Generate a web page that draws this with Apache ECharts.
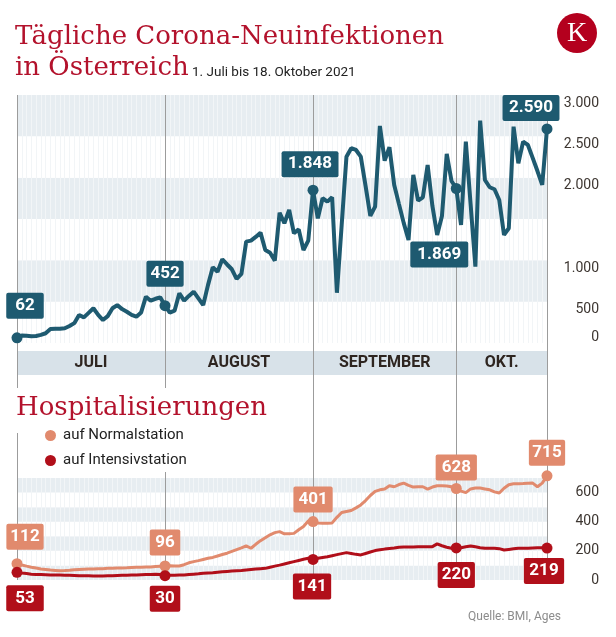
<!DOCTYPE html>
<html><head><meta charset="utf-8">
<script src="https://cdn.jsdelivr.net/npm/echarts@6/dist/echarts.min.js"></script>
<style>html,body{margin:0;padding:0;background:#fff}#c{width:616px;height:637px}</style>
</head><body><div id="c"></div>
<script>
// ---- data ----
const monthNames = ['JULI', 'AUGUST', 'SEPTEMBER', 'OKT.'];
const monthStarts = [0, 31, 62, 92];
const lastDay = 111;
const highlightDays = [0, 31, 62, 92, 111];

const infections = [
  62, 90, 88, 83, 85, 98, 118, 168, 173, 173,
  178, 205, 240, 338, 310, 365, 420, 340, 278, 325,
  420, 459, 410, 378, 340, 318, 370, 560, 512, 535,
  553, 452, 367, 391, 601, 512, 570, 621, 540, 459,
  700, 916, 863, 1013, 950, 892, 775, 835, 1226, 1238,
  1283, 1335, 1125, 1092, 996, 1576, 1448, 1609, 1327, 1375,
  1125, 1238, 1848, 1508, 1751, 1710, 1763, 608, 1430, 2254,
  2356, 2335, 2254, 1900, 1537, 1649, 2626, 2206, 2368, 1912,
  1680, 1450, 1246, 2033, 1722, 1763, 2154, 1658, 1307, 1537,
  2287, 1960, 1869, 1428, 2436, 1680, 923, 2690, 1972, 1884,
  1860, 1730, 1307, 1388, 2617, 2174, 2436, 2396, 2240, 2080,
  1912, 2590
];
const normalstation = [
  112, 103, 95, 88, 82, 76, 72, 68, 66, 64,
  65, 67, 70, 72, 74, 75, 76, 77, 78, 80,
  81, 82, 83, 84, 86, 87, 88, 89, 90, 92,
  94, 96, 97, 96, 96, 105, 118, 126, 133, 141,
  149, 155, 165, 175, 184, 196, 208, 220, 234, 218,
  245, 270, 290, 310, 325, 332, 317, 317, 320, 345,
  367, 405, 401, 392, 390, 390, 392, 430, 463, 470,
  477, 495, 515, 545, 580, 608, 619, 625, 647, 640,
  655, 665, 650, 638, 640, 640, 624, 638, 647, 647,
  645, 640, 628, 610, 600, 625, 631, 631, 625, 619,
  605, 597, 630, 654, 660, 661, 662, 664, 665, 640,
  665, 715
];
const intensivstation = [
  53, 48, 44, 40, 38, 37, 36, 35, 35, 34,
  33, 32, 31, 30, 30, 29, 28, 28, 28, 29,
  30, 31, 32, 33, 34, 35, 36, 37, 38, 39,
  37, 30, 32, 33, 34, 34, 37, 40, 43, 46,
  48, 50, 53, 56, 59, 62, 64, 66, 69, 72,
  75, 78, 80, 88, 95, 102, 110, 118, 126, 134,
  142, 149, 141, 150, 155, 160, 167, 174, 181, 188,
  182, 176, 172, 182, 192, 202, 207, 212, 216, 220,
  225, 226, 227, 227, 228, 228, 229, 229, 248, 235,
  225, 218, 220, 222, 228, 234, 228, 222, 218, 218,
  218, 215, 206, 210, 214, 218, 218, 218, 220, 222,
  222, 219
];
const infTickLabels = [0, 500, 1000, 2000, 2500, 3000];
const hospTickLabels = [0, 200, 400, 600];

// ---- style ----
const FONT = 'Roboto, sans-serif';
const SERIF = '"DejaVu Serif", serif';
const INF_COLOR = '#1e5a70';
const NORM_COLOR = '#e18a6d';
const INT_COLOR = '#b10f1a';
const TITLE_RED = '#b3122c';
const AXIS_TXT = '#3d3631';
const BAND = '#e7edf1';
const STRIPE = '#f2f5f7';

const fmt = v => String(v).replace(/\B(?=(\d{3})+(?!\d))/g, '.');

const infLabelStyle = {0:{offset:[8,-32],px:9},31:{offset:[0,-32],px:4},62:{offset:[-3,-26],px:6.5},92:{offset:[-17,66],px:7},111:{offset:[-16,-21],px:6.5}};
const normLabelStyle = {0:{offset:[8,-27],px:4},31:{offset:[0,-23.5],px:5.5},62:{offset:[0,-22],px:5},92:{offset:[0,-21],px:6},111:{offset:[0,-23],px:3.5}};
const intLabelStyle = {0:{offset:[8,26],px:9},31:{offset:[0,23],px:5.5},62:{offset:[-1,27],px:4.5},92:{offset:[0,27],px:4},111:{offset:[-3,23],px:5.5}};

function buildData(values, color, styles) {
  return values.map((v, i) => {
    const s = styles[i];
    if (!s) return [i, v];
    return {
      value: [i, v],
      label: {
        show: true, position: 'inside', offset: s.offset,
        formatter: p => fmt(p.value[1]),
        backgroundColor: color, color: '#fff', fontFamily: FONT, fontWeight: 'bold',
        fontSize: 17, lineHeight: 19, padding: [4, s.px, 3, s.px], borderRadius: 2
      }
    };
  });
}
const symSize = (val, p) => highlightDays.indexOf(p.dataIndex) >= 0 ? 11 : 0;

const L = 17, R = 69;
function hiddenX(gi) {
  return {type:'value', gridIndex:gi, min:0, max:lastDay, show:false};
}
function stripeX(gi) {
  return {type:'value', gridIndex:gi, min:0, max:lastDay, interval:1, z:1,
    axisLine:{show:false}, axisTick:{show:false}, axisLabel:{show:false},
    splitLine:{show:true, lineStyle:{color:STRIPE, width:1}}};
}
function hiddenY(gi) {
  return {type:'value', gridIndex:gi, min:0, max:1, show:false};
}

const monthEnds = monthStarts.slice(1).concat([lastDay]);
const boundaries = monthStarts.concat([lastDay]);

const chart = echarts.init(document.getElementById('c'), null, {renderer:'canvas'});
chart.setOption({
  animation: false,
  backgroundColor: '#fff',
  title: [
    {text:'Tägliche Corona-Neuinfektionen\nin Österreich', left:15, top:22, padding:0,
     textStyle:{fontFamily:SERIF, fontSize:26, fontWeight:'normal', color:TITLE_RED, lineHeight:31}},
    {text:'1. Juli bis 18. Oktober 2021', left:192, top:65, padding:0,
     textStyle:{fontFamily:FONT, fontSize:13.5, fontWeight:'normal', color:'#222', lineHeight:16}},
    {text:'Hospitalisierungen', left:10, top:388, padding:[5,6,9,6], backgroundColor:'#fff', z:10,
     textStyle:{fontFamily:SERIF, fontSize:26, fontWeight:'normal', color:TITLE_RED, lineHeight:31}},
    {text:'Quelle: BMI, Ages', right:55, top:611, padding:0,
     textStyle:{fontFamily:FONT, fontSize:12, fontWeight:'normal', color:'#8c8c8c'}}
  ],
  legend: {
    left: 40, top: 424, orient: 'vertical', icon: 'circle', itemWidth: 11, itemHeight: 11,
    itemGap: 10, padding: [4, 8, 4, 5], backgroundColor: '#fff', z: 10, selectedMode: false,
    textStyle: {fontFamily: FONT, fontSize: 15, color: '#222', padding:[0,0,0,2]},
    data: ['auf Normalstation', 'auf Intensivstation']
  },
  graphic: [
    {type:'circle', shape:{cx:577, cy:33, r:20}, style:{fill:'#b4001e'}, z:10},
    {type:'text', x:577, y:34, z:11, style:{text:'K', fill:'#fff', font:'28px "Liberation Serif", serif', align:'center', verticalAlign:'middle'}}
  ],
  grid: [
    {left:L, right:R, top:95, bottom:57, outerBoundsMode:'none'},
    {left:L, right:R, top:95, bottom:294, outerBoundsMode:'none'},
    {left:L, right:R, top:351, bottom:262, outerBoundsMode:'none'},
    {left:L, right:R, top:478, bottom:57, outerBoundsMode:'none'}
  ],
  xAxis: [hiddenX(0), stripeX(1), hiddenX(2), stripeX(3)],
  yAxis: [
    hiddenY(0),
    {type:'value', gridIndex:1, position:'right', min:0, max:3000, interval:500,
     axisLine:{show:false}, axisTick:{show:false}, splitLine:{show:false},
     splitArea:{show:true, areaStyle:{color:['#ffffff', BAND]}},
     axisLabel:{align:'right', margin:52, verticalAlign:'middle',
       formatter: v => infTickLabels.indexOf(v) < 0 ? '' : (v === 0 ? '{z|0}' : '{n|' + fmt(v) + '}'),
       rich:{n:{fontFamily:FONT, fontSize:14, color:AXIS_TXT, padding:[16,0,0,0]},
             z:{fontFamily:FONT, fontSize:14, color:AXIS_TXT, padding:[0,0,12,0]}}}},
    hiddenY(2),
    {type:'value', gridIndex:3, position:'right', min:0, max:700, interval:100,
     axisLine:{show:false}, axisTick:{show:false}, splitLine:{show:false},
     splitArea:{show:true, areaStyle:{color:[BAND, '#ffffff']}},
     axisLabel:{align:'right', margin:52, fontFamily:FONT, fontSize:14, color:AXIS_TXT,
       formatter: v => hospTickLabels.indexOf(v) < 0 ? '' : String(v)}}
  ],
  series: [
    {type:'line', xAxisIndex:2, yAxisIndex:2, data:[], silent:true, z:2,
     markArea:{silent:true, z:1, itemStyle:{color:'#d8e2e9', borderWidth:0},
       label:{show:true, position:'inside', color:'#2e2520', fontFamily:FONT, fontWeight:'bold', fontSize:16},
       data: monthStarts.map((s, i) => [{name:monthNames[i], xAxis:s}, {xAxis:monthEnds[i]}])}},
    {type:'line', xAxisIndex:0, yAxisIndex:0, data:[], silent:true, z:3,
     markLine:{silent:true, z:3, symbol:['none','none'], label:{show:false},
       lineStyle:{color:'#9c9c9c', width:1, type:'solid'},
       data: boundaries.map(d => ({xAxis:d}))}},
    {name:'Neuinfektionen', type:'line', xAxisIndex:1, yAxisIndex:1, z:4, silent:true, clip:false,
     data: buildData(infections, INF_COLOR, infLabelStyle),
     symbol:'circle', symbolSize:symSize, showSymbol:true,
     lineStyle:{color:INF_COLOR, width:4}, itemStyle:{color:INF_COLOR}},
    {name:'auf Normalstation', type:'line', xAxisIndex:3, yAxisIndex:3, z:4, silent:true, clip:false,
     data: buildData(normalstation, NORM_COLOR, normLabelStyle),
     symbol:'circle', symbolSize:symSize, showSymbol:true,
     lineStyle:{color:NORM_COLOR, width:3}, itemStyle:{color:NORM_COLOR}},
    {name:'auf Intensivstation', type:'line', xAxisIndex:3, yAxisIndex:3, z:4, silent:true, clip:false,
     data: buildData(intensivstation, INT_COLOR, intLabelStyle),
     symbol:'circle', symbolSize:symSize, showSymbol:true,
     lineStyle:{color:INT_COLOR, width:3}, itemStyle:{color:INT_COLOR}}
  ]
});
</script>
</body></html>
